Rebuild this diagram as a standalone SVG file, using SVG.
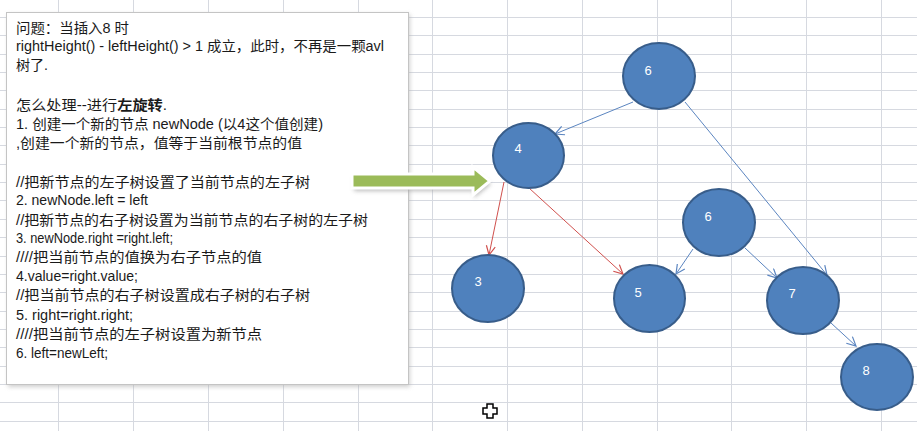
<svg xmlns="http://www.w3.org/2000/svg" width="924" height="431" viewBox="0 0 924 431">
<style>
.grid{stroke:#d6d9e0;stroke-width:1;fill:none}
.txt{font-family:"Liberation Sans","Noto Sans CJK SC",sans-serif;font-size:14px;fill:#1a1a1a}
.node ellipse{fill:#4f81bd;stroke:#385d8a;stroke-width:2}
.node text{font-family:"Liberation Sans",sans-serif;font-size:13px;fill:#ffffff;text-anchor:middle}
.eb{stroke:#5b85c0;stroke-width:1;fill:none;marker-end:url(#ab)}
.er{stroke:#d0504d;stroke-width:1;fill:none;marker-end:url(#ar)}
</style>
<defs>
<marker id="ab" markerUnits="userSpaceOnUse" markerWidth="12" markerHeight="12" refX="10" refY="5" orient="auto">
<path d="M1,0.5 L10,5 L1,9.5" fill="none" stroke="#5b85c0" stroke-width="1.2"/>
</marker>
<marker id="ar" markerUnits="userSpaceOnUse" markerWidth="12" markerHeight="12" refX="10" refY="5" orient="auto">
<path d="M1,0.5 L10,5 L1,9.5" fill="none" stroke="#d0504d" stroke-width="1.2"/>
</marker>
<filter id="sh" x="-20%" y="-20%" width="140%" height="160%">
<feGaussianBlur stdDeviation="2"/>
</filter>
</defs>
<rect width="924" height="431" fill="#ffffff"/>
<path class="grid" d="M0,17.5H917M0,35.5H917M0,54.5H917M0,72.5H917M0,90.5H917M0,109.5H917M0,127.5H917M0,145.5H917M0,164.5H917M0,182.5H917M0,200.5H917M0,219.5H917M0,237.5H917M0,256.5H917M0,274.5H917M0,292.5H917M0,311.5H917M0,329.5H917M0,347.5H917M0,366.5H917M0,384.5H917M0,402.5H917M0,421.5H917M58.5,0V431M133.5,0V431M208.5,0V431M283.5,0V431M358.5,0V431M432.5,0V431M507.5,0V431M582.5,0V431M657.5,0V431M731.5,0V431M806.5,0V431M881.5,0V431"/>
<g id="textbox">
<rect x="8" y="14" width="402" height="373" fill="#b0b0b0" filter="url(#sh)" opacity="0.6"/>
<rect x="6.5" y="12.5" width="402" height="372" fill="#ffffff" stroke="#c4c4c4" stroke-width="1"/>
<text class="txt" x="16" y="33" textLength="113" lengthAdjust="spacingAndGlyphs">问题：当插入8 时</text>
<text class="txt" x="16" y="51" textLength="368" lengthAdjust="spacingAndGlyphs">rightHeight() - leftHeight() &gt; 1 成立，此时，不再是一颗avl</text>
<text class="txt" x="16" y="70" textLength="32" lengthAdjust="spacingAndGlyphs">树了.</text>
<text class="txt" x="16" y="110" textLength="151" lengthAdjust="spacingAndGlyphs">怎么处理--进行<tspan font-weight="bold">左旋转</tspan>.</text>
<text class="txt" x="16" y="129" textLength="307" lengthAdjust="spacingAndGlyphs">1. 创建一个新的节点 newNode (以4这个值创建)</text>
<text class="txt" x="16" y="148" textLength="286" lengthAdjust="spacingAndGlyphs">,创建一个新的节点，值等于当前根节点的值</text>
<text class="txt" x="16" y="187" textLength="294" lengthAdjust="spacingAndGlyphs">//把新节点的左子树设置了当前节点的左子树</text>
<text class="txt" x="16" y="205" textLength="132" lengthAdjust="spacingAndGlyphs">2. newNode.left = left</text>
<text class="txt" x="16" y="225" textLength="352" lengthAdjust="spacingAndGlyphs">//把新节点的右子树设置为当前节点的右子树的左子树</text>
<text class="txt" x="16" y="243" textLength="157" lengthAdjust="spacingAndGlyphs">3. newNode.right =right.left;</text>
<text class="txt" x="16" y="262" textLength="246" lengthAdjust="spacingAndGlyphs">////把当前节点的值换为右子节点的值</text>
<text class="txt" x="16" y="281" textLength="122" lengthAdjust="spacingAndGlyphs">4.value=right.value;</text>
<text class="txt" x="16" y="300" textLength="294" lengthAdjust="spacingAndGlyphs">//把当前节点的右子树设置成右子树的右子树</text>
<text class="txt" x="16" y="320" textLength="117" lengthAdjust="spacingAndGlyphs">5. right=right.right;</text>
<text class="txt" x="16" y="339" textLength="246" lengthAdjust="spacingAndGlyphs">////把当前节点的左子树设置为新节点</text>
<text class="txt" x="16" y="358" textLength="92" lengthAdjust="spacingAndGlyphs">6. left=newLeft;</text>
</g>
<g id="green-arrow">
<polygon points="354,177 474,177 474,171 491,184 474,198 474,191 354,191" fill="#a0a0a0" filter="url(#sh)" opacity="0.7"/>
<polygon points="352,174 473,174 473,167 490,181 473,195 473,188 352,188" fill="#9bbb59" stroke="#ffffff" stroke-width="3" stroke-linejoin="miter"/>
</g>
<g id="connectors">
<line class="eb" x1="633" y1="102" x2="555" y2="134"/>
<line class="eb" x1="685" y1="102" x2="827" y2="275"/>
<line class="er" x1="504" y1="182" x2="489" y2="255"/>
<line class="er" x1="529" y1="188" x2="623" y2="274"/>
<line class="eb" x1="693" y1="249" x2="676" y2="274"/>
<line class="eb" x1="745" y1="248" x2="777" y2="278"/>
<line class="eb" x1="831" y1="323" x2="856" y2="346"/>
</g>
<g id="node-6-root" class="node"><ellipse cx="659" cy="76" rx="36" ry="33"/><text x="648" y="75">6</text></g>
<g id="node-4" class="node"><ellipse cx="528.5" cy="155.5" rx="35.5" ry="32.5"/><text x="518" y="153">4</text></g>
<g id="node-6-mid" class="node"><ellipse cx="719" cy="222.5" rx="36" ry="33.5"/><text x="708" y="221">6</text></g>
<g id="node-3" class="node"><ellipse cx="488" cy="288.5" rx="36" ry="33.5"/><text x="478" y="286">3</text></g>
<g id="node-5" class="node"><ellipse cx="649.5" cy="298.5" rx="35.5" ry="33.5"/><text x="638" y="297">5</text></g>
<g id="node-7" class="node"><ellipse cx="803" cy="300.5" rx="36" ry="33.5"/><text x="792" y="298">7</text></g>
<g id="node-8" class="node"><ellipse cx="877" cy="377" rx="36" ry="33"/><text x="866" y="375">8</text></g>
<g id="cursor">
<path d="M487,404 H493 V408 H497 V414 H493 V418 H487 V414 H483 V408 H487 Z" fill="#ffffff" stroke="#000000" stroke-width="1.5" stroke-linejoin="miter"/>
</g>
</svg>
